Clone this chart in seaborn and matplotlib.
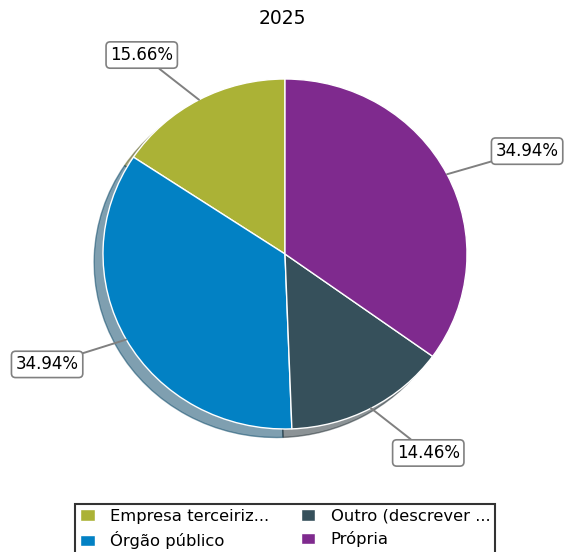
import numpy as np
import seaborn as sns
import matplotlib.pyplot as plt

sns.set_style("white")
plt.rcParams['font.family'] = ['DejaVu Sans']
plt.rcParams['text.color'] = 'black'

# Data
categorias = ["Empresa terceiriz...", "Órgão público", "Outro (descrever ...", "Própria"]
contagens = [13, 29, 12, 29]
cores = sns.color_palette(["#abb236", "#0281c4", "#36505b", "#7f2a8e"])
titulo = "2025"

fig = plt.figure(figsize=(5.64, 5.52), dpi=100)
ax = fig.add_axes([0, 0, 1, 1])

wedges, _ = ax.pie(contagens, colors=cores, startangle=90,
                   shadow={"ox": -0.035, "oy": -0.035, "shade": 0.5},
                   wedgeprops=dict(edgecolor="white", linewidth=1))

total = sum(contagens)
bbox_props = dict(boxstyle="round,pad=0.25", fc="white", ec="gray", lw=1.2)
for w, v in zip(wedges, contagens):
    ang = np.deg2rad((w.theta2 + w.theta1) / 2.0)
    x, y = np.cos(ang), np.sin(ang)
    ha = "left" if x > 0 else "right"
    ax.annotate("%.2f%%" % (100.0 * v / total), xy=(x, y),
                xytext=(1.30 * x, 1.29 * y), ha=ha, va="center", fontsize=12,
                bbox=bbox_props,
                arrowprops=dict(arrowstyle="-", color="gray", lw=1.4, shrinkA=0, shrinkB=0))

# place pie like the reference (center ~ (285,254) px)
rx, ry = 182.0, 175.0
ax.set_aspect("auto")
ax.set_xlim(-285 / rx, (564 - 285) / rx)
ax.set_ylim(-(552 - 254) / ry, 254 / ry)
ax.axis("off")

fig.text(0.5, 1 - 18 / 552, titulo, ha="center", va="center", fontsize=13.5)

leg = fig.legend(wedges, categorias, loc="upper center", ncol=2,
                 bbox_to_anchor=(285 / 564, 1 - 504 / 552), fontsize=11.8,
                 frameon=True, fancybox=False, edgecolor="black",
                 handlelength=0.9, handleheight=0.7, columnspacing=1.95,
                 labelspacing=0.45, borderpad=0.3, handletextpad=0.92,
                 borderaxespad=0)
leg.get_frame().set_linewidth(1.5)

fig.savefig("out.png", dpi=100)
